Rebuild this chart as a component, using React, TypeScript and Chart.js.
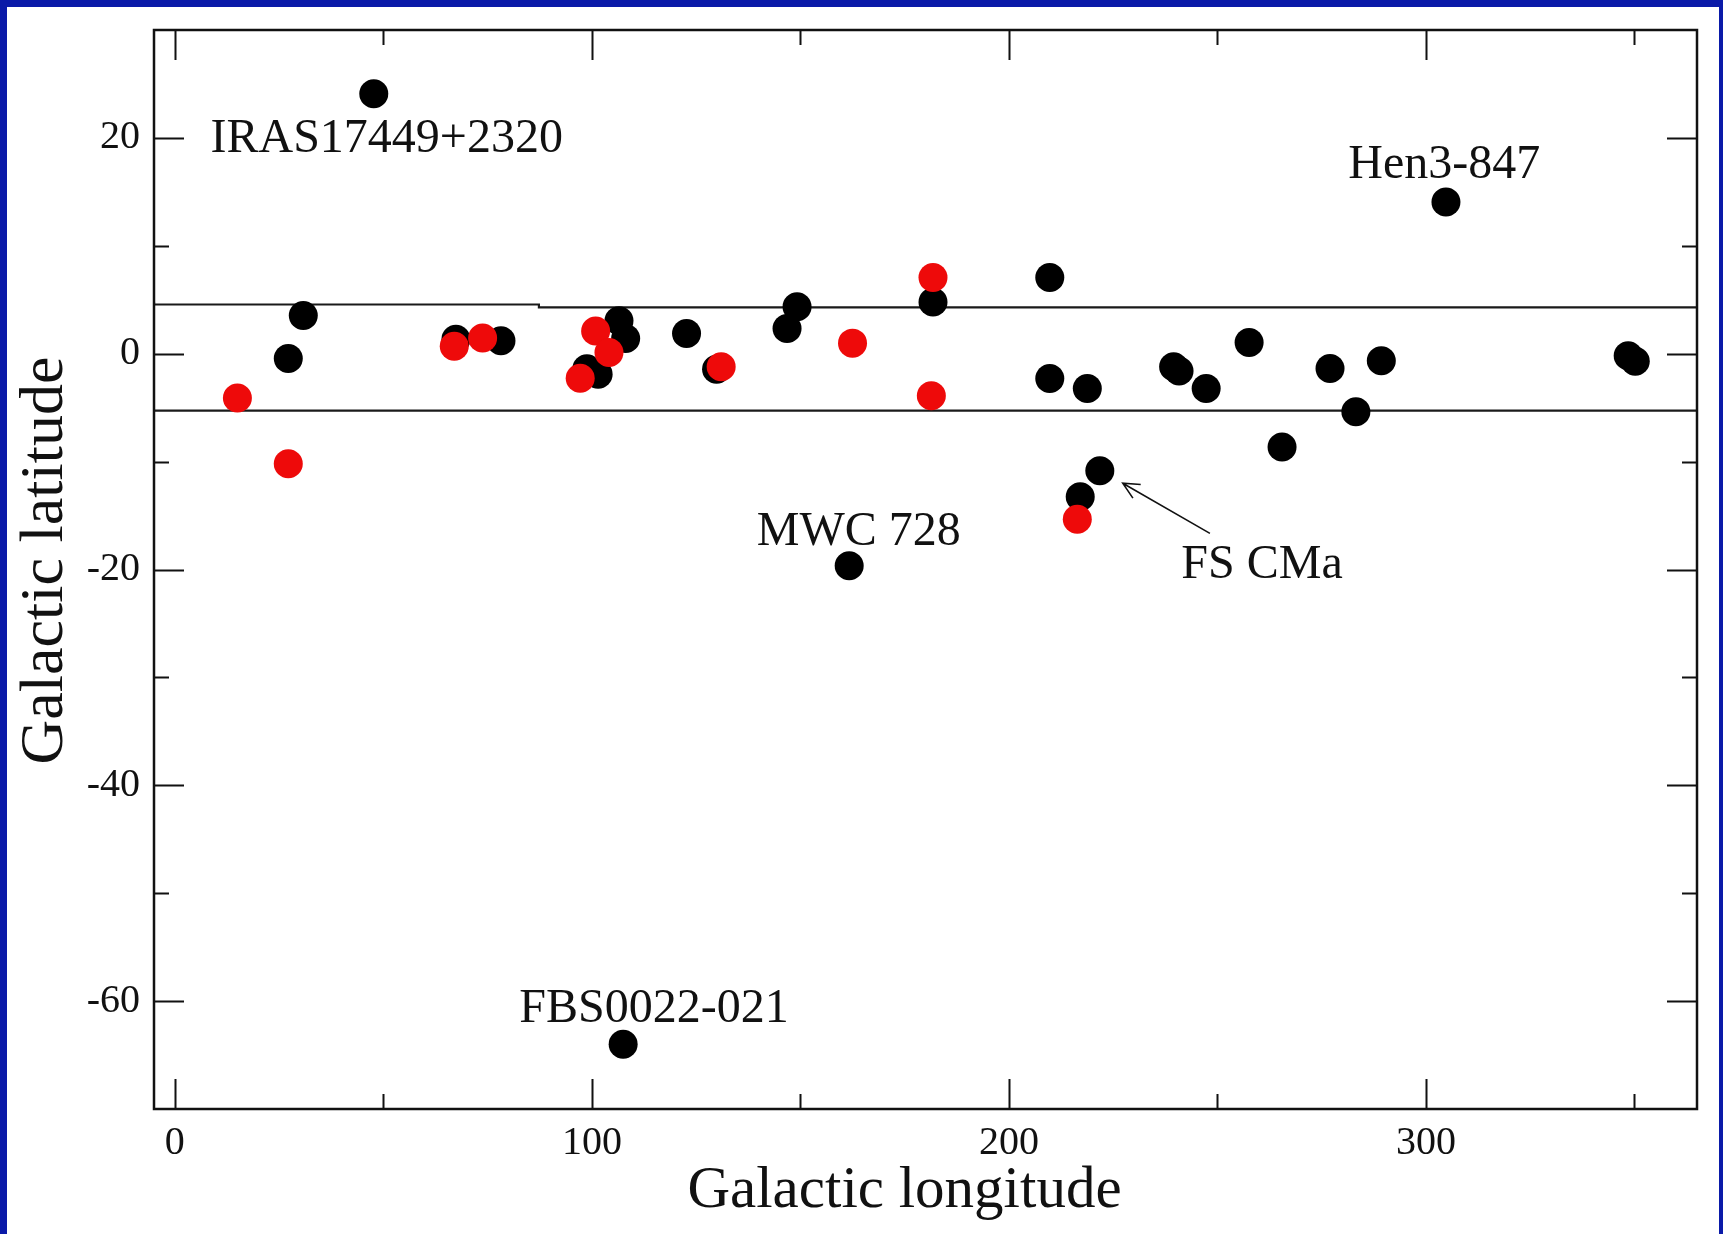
import React, { useEffect, useRef } from "react";
import { Chart, registerables } from "chart.js";

Chart.register(...registerables);

// ---- data (galactic longitude / latitude, degrees) ----
const blackLon = [27.2, 30.8, 47.7, 67.4, 78.2, 98.8, 101.5, 106.5, 108.1, 107.5, 122.7, 129.9, 146.8, 149.2, 161.7, 181.8, 209.8, 209.8, 217.1, 218.8, 221.8, 239.5, 240.8, 247.3, 257.6, 265.5, 277.0, 283.2, 289.3, 304.8, 348.5, 350.2];
const blackLat = [-0.45, 3.55, 24.1, 1.35, 1.2, -1.4, -1.9, 3.05, 1.4, -64.0, 1.87, -1.43, 2.34, 4.35, -19.66, 4.8, 7.07, -2.3, -13.25, -3.23, -10.84, -1.2, -1.6, -3.23, 1.04, -8.64, -1.37, -5.39, -0.66, 14.05, -0.2, -0.7];
const redLon = [15.0, 27.2, 67.0, 73.8, 97.2, 100.9, 104.1, 131.0, 162.5, 181.8, 181.4, 216.4];
const redLat = [-4.1, -10.2, 0.7, 1.45, -2.27, 2.1, 0.1, -1.2, 0.98, 7.07, -3.9, -15.35];

const upperBandLon = [-5, 87.3, 272.6, 365];
const upperBandLat = [4.76, 4.56, 4.3, 4.3];
const lowerBandLon = [-5, 365];
const lowerBandLat = [-5.28, -5.28];

const xMajorTicks = [0, 100, 200, 300];
const xMinorTicks = [50, 150, 250, 350];
const yMajorTicks = [-60, -40, -20, 0, 20];
const yMinorTicks = [-50, -30, -10, 10];

const xTitle = "Galactic longitude";
const yTitle = "Galactic latitude";

const labelTexts = ["IRAS17449+2320", "Hen3-847", "MWC 728", "FBS0022-021", "FS CMa"];
const labelLon = [50.8, 304.4, 164.0, 114.9, 260.7];
const labelLat = [19.85, 17.45, -16.55, -60.75, -19.62];

const arrowFromLon = 248.2;
const arrowFromLat = -16.65;
const arrowToLon = 227.3;
const arrowToLat = -12.01;

const SERIF = '"Liberation Serif", "Times New Roman", serif';

const decorPlugin = {
  id: "decor",
  afterDatasetsDraw(chart: any) {
    const { ctx, chartArea: a } = chart;
    const xs = chart.scales.x;
    const ys = chart.scales.y;
    ctx.save();
    ctx.strokeStyle = "#111";
    ctx.lineWidth = 2;
    const majorLen = 30;
    const minorLen = 15;
    const xTick = (v: number, len: number) => {
      const px = Math.round(xs.getPixelForValue(v)) + 0.5;
      ctx.beginPath();
      ctx.moveTo(px, a.bottom);
      ctx.lineTo(px, a.bottom - len);
      ctx.moveTo(px, a.top);
      ctx.lineTo(px, a.top + len);
      ctx.stroke();
    };
    const yTick = (v: number, len: number) => {
      const py = Math.round(ys.getPixelForValue(v)) + 0.5;
      ctx.beginPath();
      ctx.moveTo(a.left, py);
      ctx.lineTo(a.left + len, py);
      ctx.moveTo(a.right, py);
      ctx.lineTo(a.right - len, py);
      ctx.stroke();
    };
    xMajorTicks.forEach((v) => xTick(v, majorLen));
    xMinorTicks.forEach((v) => xTick(v, minorLen));
    yMajorTicks.forEach((v) => yTick(v, majorLen));
    yMinorTicks.forEach((v) => yTick(v, minorLen));

    ctx.lineWidth = 2.5;
    ctx.strokeRect(a.left, a.top, a.right - a.left, a.bottom - a.top);

    ctx.fillStyle = "#111";
    ctx.font = `48px ${SERIF}`;
    ctx.textAlign = "center";
    ctx.textBaseline = "middle";
    labelTexts.forEach((t, i) => {
      ctx.fillText(t, xs.getPixelForValue(labelLon[i]), ys.getPixelForValue(labelLat[i]));
    });

    // axis titles
    ctx.font = `59px ${SERIF}`;
    ctx.fillText(xTitle, (a.left + a.right) / 2 - 21, a.bottom + 82);
    ctx.save();
    ctx.font = `62px ${SERIF}`;
    ctx.translate(a.left - 108, (a.top + a.bottom) / 2 - 9);
    ctx.rotate(-Math.PI / 2);
    ctx.fillText(yTitle, 0, 0);
    ctx.restore();

    // arrow to FS CMa
    const x0 = xs.getPixelForValue(arrowFromLon);
    const y0 = ys.getPixelForValue(arrowFromLat);
    const x1 = xs.getPixelForValue(arrowToLon);
    const y1 = ys.getPixelForValue(arrowToLat);
    ctx.lineWidth = 1.6;
    ctx.beginPath();
    ctx.moveTo(x0, y0);
    ctx.lineTo(x1, y1);
    const ang = Math.atan2(y0 - y1, x0 - x1);
    const head = 18;
    const spread = 0.45;
    ctx.moveTo(x1 + head * Math.cos(ang - spread), y1 + head * Math.sin(ang - spread));
    ctx.lineTo(x1, y1);
    ctx.lineTo(x1 + head * Math.cos(ang + spread), y1 + head * Math.sin(ang + spread));
    ctx.stroke();
    ctx.restore();
  },
};

const zeroPad = (s: any) => {
  s.paddingTop = 0;
  s.paddingBottom = 0;
  s.paddingLeft = 0;
  s.paddingRight = 0;
};

export default function App() {
  const ref = useRef<HTMLCanvasElement | null>(null);

  useEffect(() => {
    if (!ref.current) return;
    Chart.defaults.font.family = SERIF;
    const chart = new Chart(ref.current, {
      type: "scatter",
      data: {
        datasets: [
          {
            label: "red",
            data: redLon.map((x, i) => ({ x, y: redLat[i] })),
            backgroundColor: "#ee0a0a",
            borderWidth: 0,
            pointRadius: 14.5,
            order: 0,
          },
          {
            label: "black",
            data: blackLon.map((x, i) => ({ x, y: blackLat[i] })),
            backgroundColor: "#000000",
            borderWidth: 0,
            pointRadius: 14.5,
            order: 1,
          },
          {
            type: "line",
            label: "upper",
            data: upperBandLon.map((x, i) => ({ x, y: upperBandLat[i] })),
            borderColor: "#1a1a1a",
            borderWidth: 2.2,
            pointRadius: 0,
            stepped: "after",
            fill: false,
            order: 2,
          } as any,
          {
            type: "line",
            label: "lower",
            data: lowerBandLon.map((x, i) => ({ x, y: lowerBandLat[i] })),
            borderColor: "#1a1a1a",
            borderWidth: 2.2,
            pointRadius: 0,
            fill: false,
            order: 2,
          } as any,
        ],
      },
      options: {
        animation: false,
        responsive: false,
        devicePixelRatio: 1,
        events: [],
        layout: { padding: { left: 0, top: 23, right: 22, bottom: 0 } },
        plugins: {
          legend: { display: false },
          tooltip: { enabled: false },
        },
        scales: {
          x: {
            type: "linear",
            position: "bottom",
            min: -5,
            max: 365,
            afterBuildTicks: (s: any) => {
              s.ticks = xMajorTicks.map((v) => ({ value: v }));
            },
            afterFit: (s: any) => {
              s.height = 125;
              zeroPad(s);
            },
            grid: { display: false, drawTicks: false },
            border: { display: false },
            ticks: {
              color: "#111",
              padding: 10,
              maxRotation: 0,
              autoSkip: false,
              font: { size: 40, family: SERIF },
              callback: (v: any) => String(v),
            },
            title: { display: false },
          },
          y: {
            type: "linear",
            min: -70,
            max: 30,
            afterBuildTicks: (s: any) => {
              s.ticks = yMajorTicks.map((v) => ({ value: v }));
            },
            afterFit: (s: any) => {
              s.width = 147;
              zeroPad(s);
            },
            grid: { display: false, drawTicks: false },
            border: { display: false },
            ticks: {
              color: "#111",
              padding: 14,
              autoSkip: false,
              font: { size: 40, family: SERIF },
              callback: (v: any) => String(v),
            },
            title: { display: false },
          },
        },
      },
      plugins: [decorPlugin],
    } as any);
    return () => chart.destroy();
  }, []);

  return (
    <div
      style={{
        position: "fixed",
        left: 0,
        top: 0,
        width: 1723,
        height: 1234,
        background: "#0a1aa8",
        overflow: "hidden",
      }}
    >
      <div
        style={{
          position: "absolute",
          left: 7,
          top: 7,
          width: 1712,
          height: 1227,
          background: "#ffffff",
        }}
      >
        <canvas ref={ref} width={1712} height={1227} style={{ display: "block" }} />
      </div>
    </div>
  );
}
